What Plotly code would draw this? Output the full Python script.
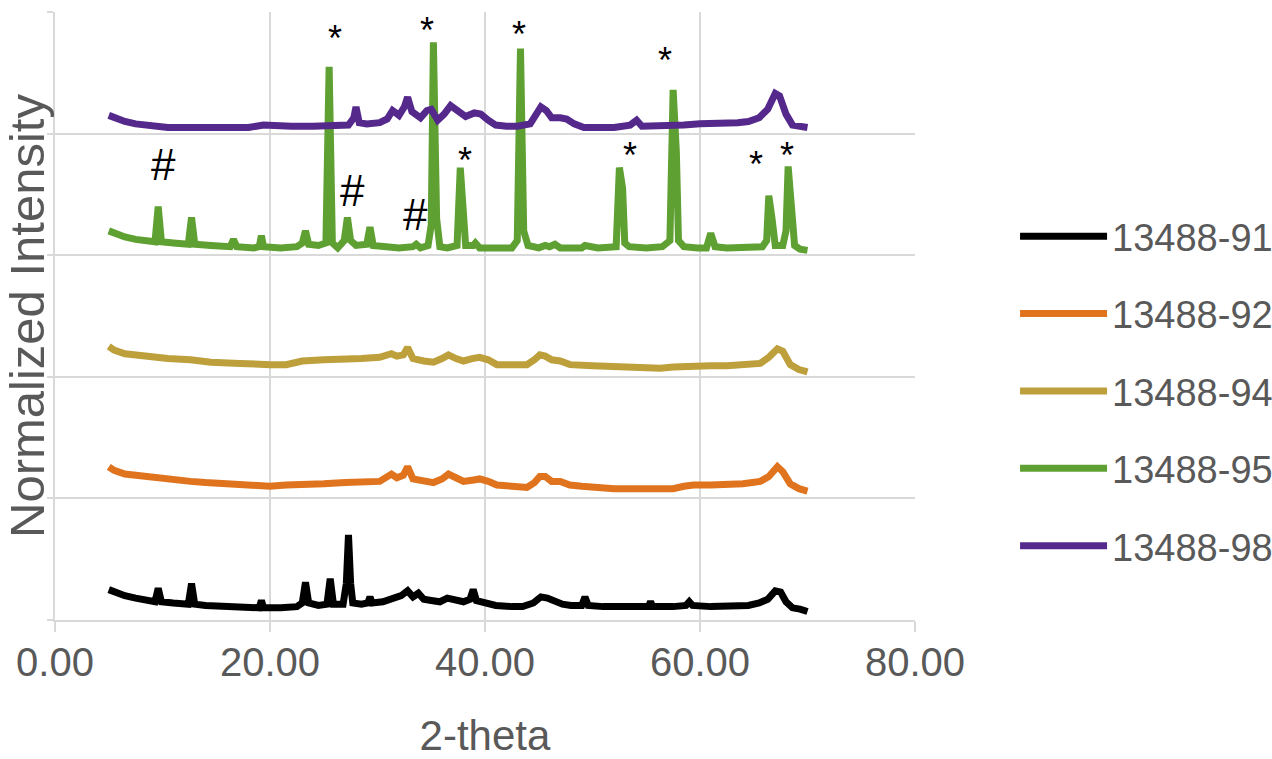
import plotly.graph_objects as go

# Stacked XRD patterns (2-theta in degrees, normalized intensity incl. stacking offset)
names = ["13488-91", "13488-92", "13488-94", "13488-95", "13488-98"]
colors = ["#000000", "#E0731E", "#BDA03C", "#5FA032", "#55288C"]

x_91 = [5.0, 5.5, 6.5, 7.5, 8.5, 9.3, 9.6, 9.9, 11, 12.4, 12.7, 13.0, 14, 15.5, 17, 19.0, 19.2, 19.4,
        21, 22.5, 23.0, 23.3, 23.6, 24.5, 25.3, 25.6, 25.9, 26.8, 27.1, 27.3, 27.5, 27.7, 28.5, 29.1,
        29.3, 29.5, 30.5, 31.5, 32.2, 32.8, 33.3, 33.8, 34.3, 35.0, 35.8, 36.5, 37.2, 38.0, 38.6, 38.9,
        39.2, 40.0, 41.0, 42.5, 43.5, 44.5, 45.2, 45.8, 46.5, 47.2, 48.0, 49.0, 49.3, 49.6, 51, 53,
        55.2, 55.4, 55.6, 57.5, 58.7, 59, 59.3, 61, 63, 64.5, 65.5, 66.3, 67.0, 67.5, 68.0, 68.6, 69.3, 70.0]
y_91 = [0.25, 0.23, 0.20, 0.18, 0.16, 0.15, 0.26, 0.15, 0.14, 0.13, 0.30, 0.13, 0.12, 0.11, 0.10, 0.10, 0.16, 0.10,
        0.10, 0.11, 0.14, 0.31, 0.14, 0.12, 0.13, 0.34, 0.13, 0.13, 0.30, 0.70, 0.30, 0.14, 0.13, 0.14,
        0.19, 0.14, 0.15, 0.18, 0.20, 0.24, 0.19, 0.22, 0.17, 0.16, 0.15, 0.18, 0.17, 0.15, 0.17, 0.25,
        0.16, 0.14, 0.12, 0.11, 0.11, 0.14, 0.19, 0.18, 0.15, 0.13, 0.12, 0.12, 0.19, 0.12, 0.11, 0.11,
        0.11, 0.15, 0.11, 0.11, 0.12, 0.15, 0.12, 0.11, 0.11, 0.12, 0.14, 0.17, 0.24, 0.23, 0.15, 0.10, 0.09, 0.07]

x_92 = [5.0, 5.5, 6.5, 7.5, 9, 10.5, 12.6, 14, 15.5, 17.2, 18.5, 20.0, 21.5, 23, 25, 27, 28.5, 30.2,
        31.3, 31.8, 32.4, 32.8, 33.3, 34.3, 35.2, 36.0, 36.6, 37.3, 38.0, 38.8, 39.5, 40.3, 41.1, 42.5,
        43.9, 44.6, 45.1, 45.6, 46.2, 47.0, 47.9, 49, 50, 52, 54, 56.3, 57.5, 58.5, 59.4, 61, 62.5, 64,
        65.6, 66.4, 67.2, 67.7, 68.4, 69.2, 70.0]
y_92 = [1.26, 1.23, 1.20, 1.19, 1.17, 1.15, 1.14, 1.13, 1.12, 1.12, 1.11, 1.10, 1.11, 1.11, 1.12, 1.13, 1.13, 1.14,
        1.20, 1.17, 1.19, 1.26, 1.16, 1.14, 1.13, 1.16, 1.20, 1.17, 1.14, 1.15, 1.16, 1.14, 1.11, 1.10,
        1.09, 1.13, 1.18, 1.18, 1.14, 1.14, 1.11, 1.10, 1.09, 1.08, 1.08, 1.08, 1.08, 1.10, 1.11, 1.11, 1.11, 1.12,
        1.14, 1.18, 1.26, 1.22, 1.12, 1.08, 1.06]

x_94 = [5.0, 5.5, 6.5, 7.3, 9, 10.5, 12.6, 14.5, 17.2, 18.5, 20.0, 21.5, 23, 25, 27, 28.5, 30.2,
        31.3, 31.8, 32.4, 32.8, 33.3, 34.3, 35.2, 36.0, 36.6, 37.3, 38.0, 38.8, 39.5, 40.3, 41.1, 42.5,
        43.9, 44.6, 45.1, 45.6, 46.2, 47.0, 47.9, 50, 52, 54, 56.3, 57.5, 59.4, 61, 62.5, 64,
        65.6, 66.4, 67.2, 67.7, 68.4, 69.2, 70.0]
y_94 = [2.25, 2.22, 2.19, 2.18, 2.16, 2.15, 2.14, 2.12, 2.11, 2.10, 2.10, 2.10, 2.13, 2.14, 2.14, 2.15, 2.16,
        2.19, 2.17, 2.18, 2.24, 2.15, 2.13, 2.12, 2.15, 2.18, 2.15, 2.13, 2.15, 2.16, 2.14, 2.10, 2.10,
        2.10, 2.14, 2.18, 2.17, 2.14, 2.13, 2.10, 2.09, 2.08, 2.08, 2.07, 2.08, 2.09, 2.09, 2.09, 2.10,
        2.11, 2.16, 2.23, 2.21, 2.10, 2.06, 2.04]

x_95 = [5.0, 5.5, 6.5, 7.5, 8.5, 9.3, 9.6, 9.9, 11, 12.4, 12.7, 13.0, 14.5, 16.3, 16.6, 16.9, 18.5, 19.0,
        19.2, 19.4, 21, 22.5, 23.0, 23.3, 23.6, 24.5, 25.2, 25.5, 25.8, 26.3, 26.9, 27.2, 27.5, 28.0,
        29.0, 29.3, 29.6, 30.5, 32, 33.3, 33.6, 34.0, 34.7, 35.0, 35.2, 35.5, 35.8, 36.5, 37.4, 37.7,
        38.0, 38.2, 38.9, 39.1, 39.5, 41, 42.5, 43.0, 43.3, 43.6, 44.0, 45, 45.6, 46, 46.5, 47, 49,
        49.3, 50.5, 52.2, 52.5, 52.8, 53.0, 53.4, 55, 56.5, 57.2, 57.5, 57.8, 58.0, 58.5, 59.8, 60.6,
        61.0, 61.4, 62.5, 64.5, 65.8, 66.2, 66.4, 66.7, 67.0, 67.7, 68.0, 68.2, 68.5, 68.8, 69.3, 70.0]
y_95 = [3.20, 3.18, 3.15, 3.13, 3.12, 3.11, 3.40, 3.11, 3.10, 3.09, 3.31, 3.09, 3.08, 3.07, 3.13, 3.07, 3.06, 3.07,
        3.16, 3.07, 3.06, 3.07, 3.10, 3.20, 3.09, 3.08, 3.10, 4.55, 3.10, 3.06, 3.12, 3.31, 3.12, 3.08,
        3.09, 3.23, 3.08, 3.07, 3.06, 3.07, 3.09, 3.06, 3.08, 3.25, 4.75, 3.30, 3.07, 3.06, 3.08, 3.72,
        3.40, 3.08, 3.08, 3.10, 3.06, 3.06, 3.06, 3.12, 4.70, 3.20, 3.08, 3.06, 3.08, 3.07, 3.09, 3.06, 3.06,
        3.08, 3.06, 3.07, 3.72, 3.55, 3.10, 3.07, 3.06, 3.07, 3.12, 4.36, 3.85, 3.12, 3.07, 3.06, 3.06,
        3.18, 3.07, 3.06, 3.06, 3.07, 3.12, 3.49, 3.30, 3.08, 3.08, 3.20, 3.73, 3.45, 3.08, 3.05, 3.04]

x_98 = [5.0, 5.5, 6.5, 7.5, 9, 10.5, 12, 14, 16, 18, 19.4, 20.5, 22, 24, 25.5, 27.3, 27.8, 28.0, 28.3,
        29.0, 30.2, 30.9, 31.4, 32.0, 32.5, 32.8, 33.2, 34.0, 34.6, 35.0, 35.6, 36.2, 36.8, 37.5, 38.2,
        39.0, 39.6, 40.3, 41.0, 42.0, 43.0, 44.2, 44.7, 45.2, 45.7, 46.2, 47.0, 47.6, 48.3, 49.2, 50.5,
        52, 53.5, 54.1, 54.6, 55.5, 57, 58.5, 60, 62, 63.5, 64.5, 65.5, 66.3, 67.0, 67.4, 68.0, 68.6,
        69.3, 70.0]
y_98 = [4.15, 4.13, 4.10, 4.08, 4.06, 4.05, 4.05, 4.05, 4.05, 4.05, 4.07, 4.06, 4.06, 4.06, 4.06, 4.07, 4.13, 4.22, 4.09,
        4.08, 4.09, 4.12, 4.19, 4.15, 4.22, 4.30, 4.18, 4.13, 4.19, 4.20, 4.11, 4.16, 4.23, 4.18, 4.14,
        4.17, 4.16, 4.11, 4.07, 4.06, 4.06, 4.08, 4.15, 4.22, 4.19, 4.13, 4.13, 4.12, 4.08, 4.05, 4.05,
        4.05, 4.07, 4.11, 4.06, 4.06, 4.06, 4.07, 4.08, 4.08, 4.09, 4.10, 4.13, 4.20, 4.33, 4.31, 4.16, 4.07,
        4.06, 4.05]

xs = [x_91, x_92, x_94, x_95, x_98]
ys = [y_91, y_92, y_94, y_95, y_98]

# Phase markers placed over the reflections
mark_text = ["*", "*", "*", "*", "*", "*", "*", "*", "#", "#", "#"]
mark_x = [26.05, 34.6, 43.16, 56.74, 38.14, 53.49, 65.21, 68.09, 10.05, 27.63, 33.49]
mark_y = [4.786, 4.844, 4.811, 4.605, 3.775, 3.824, 3.742, 3.824, 3.742, 3.536, 3.331]

x_ticks = [0, 20, 40, 60, 80]
x_ticktext = ["0.00", "20.00", "40.00", "60.00", "80.00"]

GRID = "#D9D9D9"
TEXT = "#595959"
FONT = "Liberation Sans, Arial, sans-serif"

fig = go.Figure()
for name, color, x, y in zip(names, colors, xs, ys):
    fig.add_trace(go.Scatter(
        x=x, y=y, name=name, mode="lines",
        line=dict(color=color, width=7, shape="linear"),
        legendgroup=name,
    ))

for t, mx, my in zip(mark_text, mark_x, mark_y):
    fig.add_annotation(
        x=mx, y=my, text=t, showarrow=False,
        xanchor="center", yanchor="middle",
        font=dict(family=FONT, size=36 if t == "*" else 44, color="#000000"),
    )

fig.update_layout(
    width=1272, height=759,
    margin=dict(l=55, r=357, t=12, b=139, autoexpand=False),
    paper_bgcolor="#FFFFFF", plot_bgcolor="#FFFFFF",
    font=dict(family=FONT, color=TEXT),
    showlegend=True,
    legend=dict(
        xref="container", yref="container",
        x=0.798, y=0.730, xanchor="left", yanchor="top",
        font=dict(family=FONT, size=38, color=TEXT),
        itemwidth=87, tracegroupgap=25, traceorder="grouped",
        bgcolor="rgba(0,0,0,0)",
    ),
    xaxis=dict(
        range=[0, 80], tickvals=x_ticks, ticktext=x_ticktext,
        showgrid=True, gridcolor=GRID, gridwidth=2,
        zeroline=False, showline=True, linecolor=GRID, linewidth=2,
        ticks="outside", ticklen=10, tickcolor=GRID, tickwidth=2,
        tickfont=dict(family=FONT, size=40, color=TEXT),
        ticklabelstandoff=-4,
        title=dict(text="2-theta", font=dict(family=FONT, size=42, color=TEXT), standoff=45),
    ),
    yaxis=dict(
        range=[0, 5], dtick=1, showticklabels=False,
        showgrid=True, gridcolor=GRID, gridwidth=2,
        zeroline=False, showline=True, linecolor=GRID, linewidth=2,
        ticks="outside", ticklen=6, tickcolor=GRID, tickwidth=2,
        title=dict(text="Normalized Intensity", font=dict(family=FONT, size=49, color=TEXT), standoff=4),
    ),
)

fig.write_html("out.html")
